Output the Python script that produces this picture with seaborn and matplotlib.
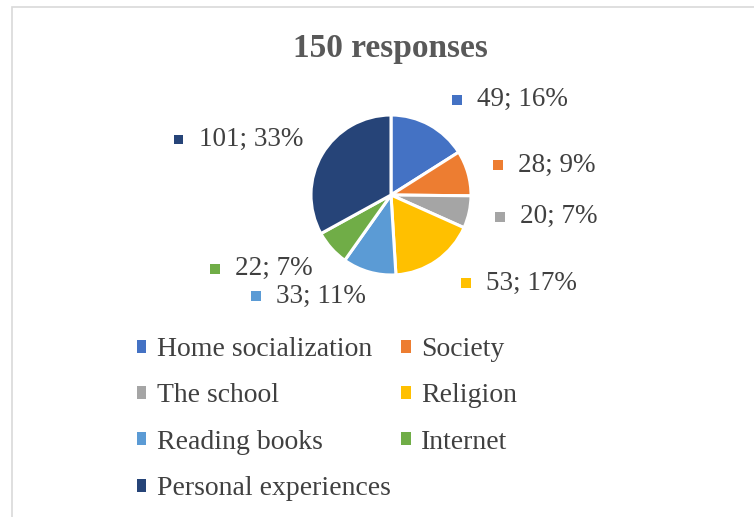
import numpy as np
import matplotlib
matplotlib.use("Agg")
import matplotlib.pyplot as plt
from matplotlib.patches import Rectangle, Patch
from matplotlib.offsetbox import AnnotationBbox, HPacker, DrawingArea, TextArea
import seaborn as sns

# Survey answers: where values come from
categories = ["Home socialization", "Society", "The school", "Religion",
              "Reading books", "Internet", "Personal experiences"]
counts = [49, 28, 20, 53, 33, 22, 101]
percent_labels = ["16%", "9%", "7%", "17%", "11%", "7%", "33%"]
title_text = "150 responses"

colors = sns.color_palette(["#4472C4", "#ED7D31", "#A5A5A5", "#FFC000",
                            "#5B9BD5", "#70AD47", "#264478"])

# small per-label offsets (in points) on top of the radial placement
label_nudge = [(6, 0), (-2, 0), (-1.5, 1), (6, 1), (3.5, 2.5), (2, -1), (4, 0)]

sns.set_theme(style="white")
plt.rcParams["font.family"] = ["Liberation Serif", "DejaVu Serif"]
text_color = "#404040"

W, H = 754, 517
fig = plt.figure(figsize=(W / 100, H / 100), dpi=100)
fig.patch.set_facecolor("white")

# chart-area frame
fig.patches.append(Rectangle((12 / W, 0 - 0.01), 1.05, 1 - 6.5 / H + 0.01,
                             transform=fig.transFigure, fill=False,
                             edgecolor="#D9D9D9", linewidth=1.2))

# pie axes: 80 px per data unit, centred on the plot area
cx, cy, half = 391, 195, 200
ax = fig.add_axes([(cx - half) / W, 1 - (cy + half) / H, 2 * half / W, 2 * half / H])

wedges, _ = ax.pie(counts, colors=colors, startangle=90, counterclock=False,
                   radius=1.0, center=(0, 0),
                   wedgeprops=dict(edgecolor="white", linewidth=2.2))
ax.set_xlim(-2.5, 2.5)
ax.set_ylim(-2.5, 2.5)
ax.set_aspect("equal")
ax.axis("off")

# data labels: coloured key + "value; percent" outside each slice
for w, n, pct, col, (nx, ny) in zip(wedges, counts, percent_labels, colors, label_nudge):
    mid = np.deg2rad((w.theta1 + w.theta2) / 2)
    r = 1.36
    x, y = r * np.cos(mid), r * np.sin(mid)
    da = DrawingArea(7, 7, 0, 0)
    da.add_artist(Rectangle((0, 0), 7, 7, facecolor=col, edgecolor="none"))
    ta = TextArea(f"{n}; {pct}", textprops=dict(fontsize=19.5, color=text_color))
    box = HPacker(children=[da, ta], align="center", pad=0, sep=11)
    align = (0, 0.5) if x >= 0 else (1, 0.5)
    ab = AnnotationBbox(box, (x, y), xycoords="data", box_alignment=align,
                        xybox=(nx, ny), boxcoords="offset points",
                        frameon=False, pad=0)
    ax.add_artist(ab)

fig.text(390 / W, 1 - 48 / H, title_text, ha="center", va="center",
         fontsize=24, fontweight="bold", color="#595959")

# legend laid out row by row in two columns
handles = [Patch(facecolor=c, edgecolor="none") for c in colors]
order = [0, 2, 4, 6, 1, 3, 5]
leg = fig.legend([handles[i] for i in order], [categories[i] for i in order],
                 ncol=2, loc="upper left", bbox_to_anchor=(137 / W, 1 - 337 / H),
                 frameon=False, fontsize=20, handlelength=0.34,
                 handleheight=0.34, handletextpad=0.38, columnspacing=0.38,
                 labelspacing=0.77, borderpad=0, borderaxespad=0)
for t in leg.get_texts():
    t.set_color(text_color)

fig.savefig("out.png", dpi=100, facecolor="white")
